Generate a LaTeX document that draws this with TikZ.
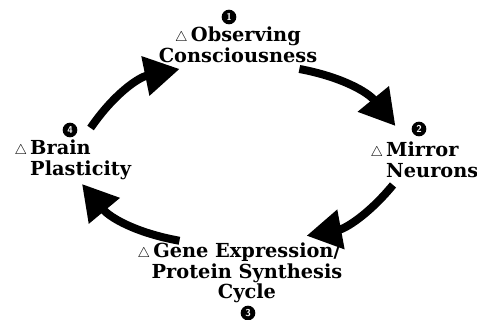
\documentclass[tikz,border=0pt]{standalone}
\usepackage{fontspec}
\setmainfont{DejaVu Serif}
\usetikzlibrary{arrows.meta}
\newcommand{\tri}{{\fontsize{12}{12}\selectfont$\triangle$}\,}
\newcommand{\hangtri}{\leavevmode\llap{\tri}}
\begin{document}
\begin{tikzpicture}[x=0.03cm,y=-0.03cm]
	\tikzset{stage/.style = {font=\fontsize{16.5}{17.5}\selectfont\bfseries,inner sep=0pt}}
	\tikzset{num/.style = {shape=circle,fill=black,text=white,inner sep=0pt,minimum size=0.44cm,font=\fontsize{8.5}{8.5}\selectfont\bfseries\sffamily}}
	\tikzset{cyc/.style = {-{Triangle[length=1.05cm,width=1.15cm]},line width=0.24cm}}
	\useasboundingbox (0,0) rectangle (477,320);
	% numbers
	\node[num] (n1) at (229,17) {1};
	\node[num] (n2) at (419,129) {2};
	\node[num] (n3) at (248,313) {3};
	\node[num] (n4) at (70,130) {4};
	% stages
	\node[stage,align=center] (obs) at (238,45) {\tri Observing\\Consciousness};
	\node[stage,align=left,anchor=west] (mir) at (386,160) {\hangtri Mirror\\Neurons};
	\node[stage,align=center] (gene) at (247,273) {\hangtri Gene Expression/\\Protein Synthesis\\Cycle};
	\node[stage,align=left,anchor=west] (brain) at (30,160) {\hangtri Brain\\Plasticity};
	% cycle
	\draw[cyc] ([shift={(-18,6)}]obs.south east) to[bend left=20] ([shift={(-16,-3)}]n2.west);
	\draw[cyc] ([shift={(7,7)}]mir.south west) to[bend left=20] ([shift={(-36,-7)}]gene.north east);
	\draw[cyc] ([shift={(28,-2)}]gene.north west) to[bend left=20] ([shift={(52,4)}]brain.south west);
	\draw[cyc] ([shift={(13,-2)}]n4.east) to[bend left=22] ([shift={(21,6)}]obs.south west);
\end{tikzpicture}
\end{document}
